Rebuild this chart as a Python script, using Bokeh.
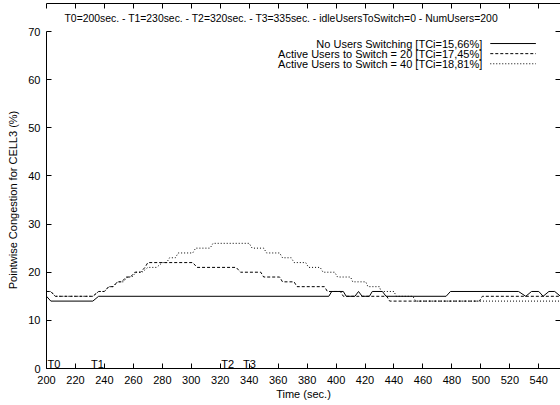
from bokeh.plotting import figure
from bokeh.models import Range1d, LinearAxis, Title, FixedTicker, CustomJSTickFormatter
from bokeh.embed import file_html
from bokeh.resources import INLINE
from bokeh.core.properties import value

FONT = "Liberation Sans"

title_text = ("T0=200sec. - T1=230sec. - T2=320sec. - T3=335sec. - "
              "idleUsersToSwitch=0 - NumUsers=200")
x_label = "Time (sec.)"
y_label = "Pointwise Congestion for CELL3 (%)"
x_ticks = list(range(200, 541, 20))
y_ticks = list(range(0, 71, 10))

# Series: No Users Switching
t_none = [200, 203, 232, 236, 395, 397, 405, 407, 413, 415.5, 418, 423, 425, 432,
          434.5, 476, 479, 526, 531, 535, 540, 543, 547, 551, 555]
v_none = [15, 14, 14, 15, 15, 16, 16, 15, 15, 16, 15, 15, 16, 16,
          15, 15, 16, 16, 15, 16, 16, 15, 16, 16, 15]

# Series: Active Users to Switch = 20
t_20 = [200, 203, 206, 232, 236, 240, 243, 246, 249, 252, 255, 258, 261, 265, 268,
        270, 301, 304, 331, 334, 348, 350, 361, 363, 371, 373, 392, 394, 403, 405,
        435, 437, 499, 501, 555]
v_20 = [16, 16, 15, 15, 16, 16, 17, 17, 18, 18, 19, 19, 20, 20, 21,
        22, 22, 21, 21, 20, 20, 19, 19, 18, 18, 17, 17, 16, 16, 15,
        15, 14, 14, 15, 15]

# Series: Active Users to Switch = 40
t_40 = [200, 203, 206, 232, 236, 240, 243, 246, 249, 253, 256, 259, 262, 266, 270,
        276, 280, 283, 285, 289, 291, 301, 303, 313, 315, 340, 342, 350, 352, 361,
        363, 369, 371, 379, 381, 389, 391, 399, 401, 410, 411.5, 420.5, 422, 430,
        431, 440, 441.5, 453, 455, 555]
v_40 = [16, 16, 15, 15, 16, 16, 17, 17, 18, 18, 19, 19, 20, 20, 21,
        21, 22, 22, 23, 23, 24, 24, 25, 25, 26, 26, 25, 25, 24, 24,
        23, 23, 22, 22, 21, 21, 20, 20, 19, 19, 18, 18, 17, 17,
        16, 16, 15, 15, 14, 14]

legend_labels = ["No Users Switching [TCi=15,66%]",
                 "Active Users to Switch = 20 [TCi=17,45%]",
                 "Active Users to Switch = 40 [TCi=18,81%]"]
legend_dashes = ["solid", "3 2", "1 2"]
legend_rows_y = [67.5, 65.4, 63.3]
legend_text_x = 501
legend_sample_x = [506.5, 538]

event_names = ["T0", "T1", "T2", "T3"]
event_times = [200, 230, 320, 335]
event_y = [1, 1, 1, 1]

p = figure(width=560, height=405, x_range=Range1d(200, 555), y_range=Range1d(0, 70),
           output_backend="svg", toolbar_location=None,
           min_border_left=46, min_border_right=0, min_border_top=31, min_border_bottom=37)
p.title = None
p.add_layout(Title(text=title_text, align="left", offset=18, text_font=FONT,
                   text_font_size="10.4px", text_font_style="normal",
                   text_color="black", standoff=15), "above")
p.outline_line_color = None
p.xgrid.visible = False
p.ygrid.visible = False
p.background_fill_color = "white"
p.border_fill_color = "white"

def style_axis(ax, ticks, labels=True):
    ax.ticker = FixedTicker(ticks=ticks)
    ax.major_tick_in = 5
    ax.major_tick_out = 0
    ax.minor_tick_line_color = None
    ax.axis_line_color = "black"
    ax.major_tick_line_color = "black"
    ax.major_label_text_font = FONT
    ax.major_label_text_font_size = "11px"
    ax.major_label_text_color = "black"
    ax.axis_label_text_font = FONT
    ax.axis_label_text_font_size = "11px"
    ax.axis_label_text_font_style = "normal"
    ax.axis_label_text_color = "black"
    if not labels:
        ax.formatter = CustomJSTickFormatter(code="return ''")
        ax.major_label_text_font_size = "1px"
        ax.major_label_standoff = 0

style_axis(p.xaxis[0], x_ticks)
style_axis(p.yaxis[0], y_ticks)
p.xaxis[0].axis_label = x_label
p.yaxis[0].axis_label = y_label
p.xaxis[0].major_label_standoff = 7
p.xaxis[0].axis_label_standoff = 1
p.yaxis[0].major_label_standoff = 6
p.yaxis[0].axis_label_standoff = 6

top_ax = LinearAxis()
style_axis(top_ax, x_ticks, labels=False)
p.add_layout(top_ax, "above")
right_ax = LinearAxis()
style_axis(right_ax, y_ticks, labels=False)
right_ax.axis_line_color = None
p.add_layout(right_ax, "right")

p.line(t_none, v_none, line_color="black", line_width=1)
p.line(t_20, v_20, line_color="black", line_width=1, line_dash="3 2")
p.line(t_40, v_40, line_color="black", line_width=1, line_dash="1 2")

p.text(x=event_times, y=event_y, text=event_names, text_font=value(FONT),
       text_font_size="11px", text_align="left", text_baseline="middle",
       text_color="black", x_offset=1)

p.text(x=[legend_text_x] * 3, y=legend_rows_y, text=legend_labels, text_font=value(FONT),
       text_font_size="11px", text_align="right", text_baseline="middle",
       text_color="black")
for yy, dash in zip(legend_rows_y, legend_dashes):
    p.line(legend_sample_x, [yy, yy], line_color="black", line_width=1, line_dash=dash)

open("out.html", "w").write(file_html(p, INLINE))
